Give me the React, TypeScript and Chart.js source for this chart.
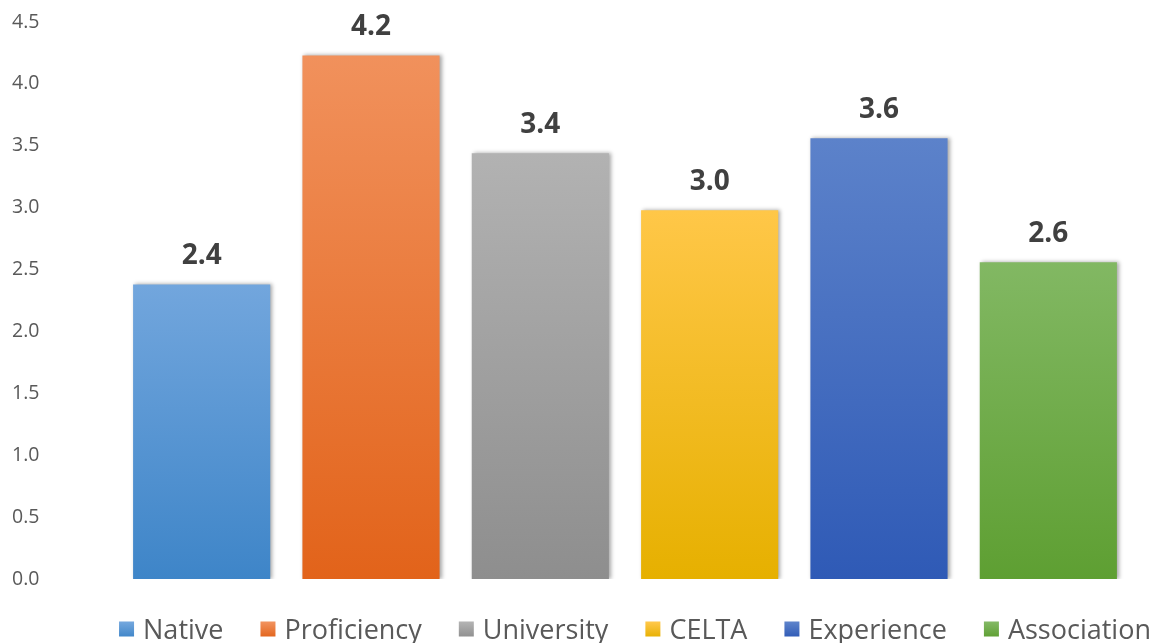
import React, { useEffect, useRef } from "react";
import { Chart, registerables } from "chart.js";

Chart.register(...registerables);

const categories = ["Native", "Proficiency", "University", "CELTA", "Experience", "Association"];
const values = [2.38, 4.23, 3.44, 2.98, 3.56, 2.56];
const topColors = ["#72a6dd", "#f1915c", "#b2b2b2", "#ffc748", "#5c82ca", "#82b863"];
const bottomColors = ["#3e85c8", "#e2631a", "#8e8e8e", "#e6b000", "#2f5ab6", "#5e9f32"];
const yTicks = [0, 0.5, 1, 1.5, 2, 2.5, 3, 3.5, 4, 4.5];

export default function App() {
  const ref = useRef<HTMLCanvasElement | null>(null);
  useEffect(() => {
    if (!ref.current) return;
    const shadowPlugin = {
      id: "shadow",
      beforeDatasetsDraw(chart: any) {
        const ctx = chart.ctx;
        ctx.save();
        ctx.shadowColor = "rgba(0,0,0,0.35)";
        ctx.shadowBlur = 4;
        ctx.shadowOffsetX = 2;
        ctx.shadowOffsetY = 0;
      },
      afterDatasetsDraw(chart: any) {
        chart.ctx.restore();
      },
    };
    const labelPlugin = {
      id: "labels",
      afterDraw(chart: any) {
        const ctx = chart.ctx;
        const meta = chart.getDatasetMeta(0);
        ctx.save();
        ctx.font = "bold 28px 'Open Sans', sans-serif";
        ctx.fillStyle = "#404040";
        ctx.textAlign = "center";
        ctx.textBaseline = "middle";
        meta.data.forEach((bar: any, i: number) => {
          ctx.fillText(values[i].toFixed(1), bar.x, bar.y - 28);
        });
        // custom legend
        ctx.font = "27px 'Open Sans', sans-serif";
        ctx.textAlign = "left";
        const box = 15;
        const gapBox = 9;
        const gapItem = 37;
        const widths = categories.map((c) => ctx.measureText(c).width);
        const total = widths.reduce((a, w) => a + box + gapBox + w, 0) + gapItem * (categories.length - 1);
        let x = 635 - total / 2;
        const y = 630;
        categories.forEach((c, i) => {
          const g = ctx.createLinearGradient(0, y - box / 2, 0, y + box / 2);
          g.addColorStop(0, topColors[i]);
          g.addColorStop(1, bottomColors[i]);
          ctx.fillStyle = g;
          ctx.fillRect(x, y - box / 2 - 1, box, box);
          x += box + gapBox;
          ctx.fillStyle = "#595959";
          ctx.fillText(c, x, y + 1);
          x += widths[i] + gapItem;
        });
        ctx.restore();
      },
    };
    const chart = new Chart(ref.current, {
      type: "bar",
      data: {
        labels: categories,
        datasets: [
          {
            data: values,
            backgroundColor: (c: any) => {
              const ch = c.chart;
              const i = c.dataIndex;
              const ys = ch.scales && ch.scales.y;
              if (!ys || i === undefined || !ch.chartArea) return topColors[i ?? 0];
              const top = ys.getPixelForValue(values[i]);
              const bottom = ys.getPixelForValue(0);
              const g = ch.ctx.createLinearGradient(0, top, 0, bottom);
              g.addColorStop(0, topColors[i]);
              g.addColorStop(1, bottomColors[i]);
              return g;
            },
            borderWidth: 0,
            barPercentage: 0.81,
            categoryPercentage: 1,
          },
        ],
      },
      options: {
        animation: false,
        responsive: false,
        layout: { padding: { left: 12, top: 22, right: 25, bottom: 64 } },
        plugins: { legend: { display: false }, tooltip: { enabled: false } },
        scales: {
          x: { display: false, grid: { display: false } },
          y: {
            min: 0,
            max: 4.5,
            afterBuildTicks: (s: any) => {
              s.ticks = yTicks.map((v) => ({ value: v }));
            },
            afterFit: (s: any) => {
              s.width = 105;
            },
            grid: { display: false },
            border: { display: false },
            ticks: {
              crossAlign: "far",
              color: "#595959",
              font: { size: 19.5, family: "'Open Sans', sans-serif" },
              callback: (v: any) => Number(v).toFixed(1),
            },
          },
        },
      },
      plugins: [shadowPlugin, labelPlugin],
    } as any);
    return () => chart.destroy();
  }, []);
  return (
    <div style={{ position: "fixed", left: 0, top: 0, width: 1158, height: 643, overflow: "hidden", background: "#fff" }}>
      <canvas ref={ref} width={1158} height={643} style={{ width: 1158, height: 643, display: "block" }} />
    </div>
  );
}
